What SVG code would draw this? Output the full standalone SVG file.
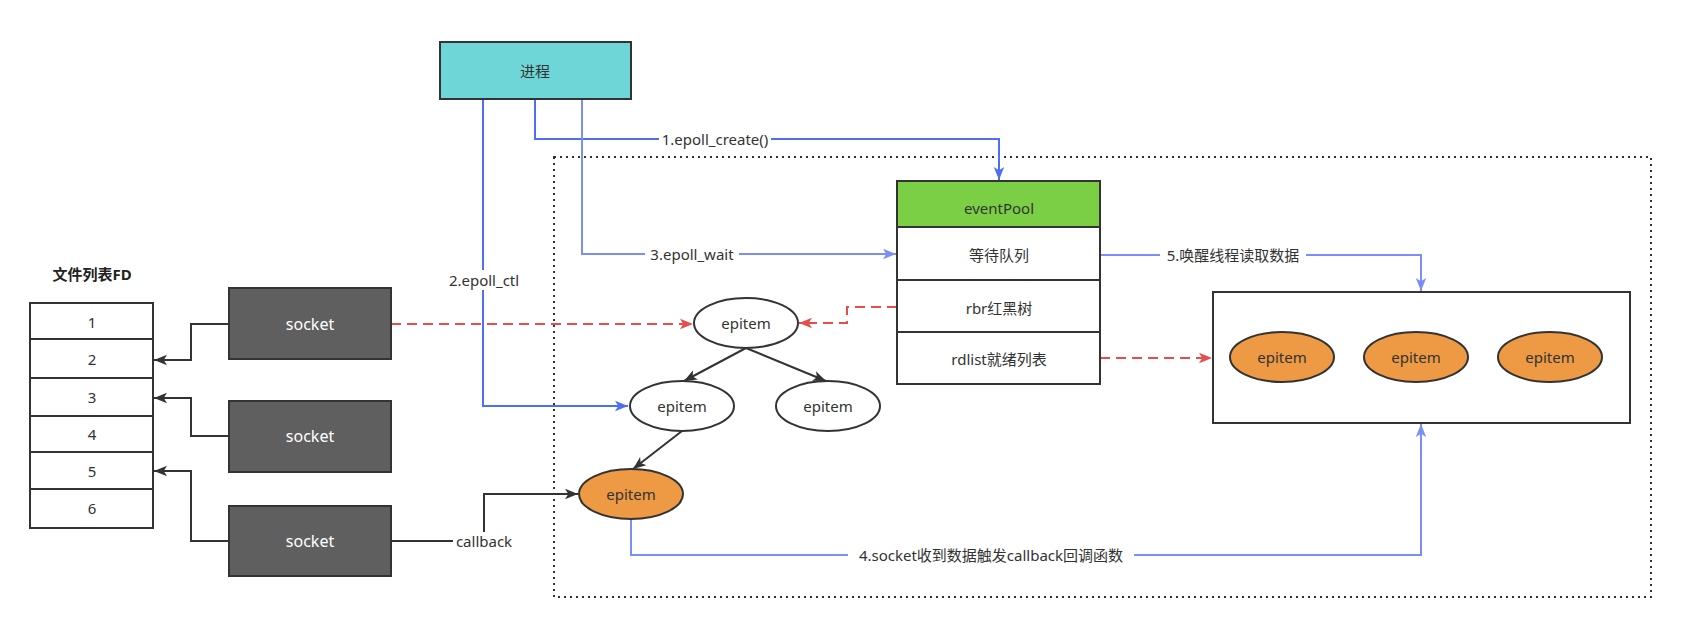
<svg xmlns="http://www.w3.org/2000/svg" width="1700" height="624" viewBox="0 0 1700 624">
<style>
text{font-family:"Noto Sans","Noto Sans CJK SC",sans-serif;fill:#333;text-anchor:middle;dominant-baseline:central}
.box{stroke:#333;stroke-width:2}
.w{fill:#fff}
.ell{fill:#fff;stroke:#333;stroke-width:2}
.org{fill:#ee9943;stroke:#333;stroke-width:2}
.sock{fill:#5f5f5f;stroke:#333;stroke-width:2}
.sock text,.st{fill:#fff;font-size:16px}
.n{font-size:15px}
.lb{font-size:15px}
.c{fill:none;stroke-width:2}
.blk{stroke:#333}
.b1{stroke:#4d6ef5}
.b2{stroke:#7b8ef5}
.red{stroke:#e84c4c;stroke-dasharray:10 6}
</style>
<defs>
<marker id="ak" viewBox="0 0 10 10" refX="10" refY="5" markerWidth="13" markerHeight="13" markerUnits="userSpaceOnUse" orient="auto"><path d="M0,1 L10,5 L0,9 L2.5,5 z" fill="#333"/></marker>
<marker id="ab1" viewBox="0 0 10 10" refX="10" refY="5" markerWidth="13" markerHeight="13" markerUnits="userSpaceOnUse" orient="auto"><path d="M0,1 L10,5 L0,9 L2.5,5 z" fill="#4d6ef5"/></marker>
<marker id="ab2" viewBox="0 0 10 10" refX="10" refY="5" markerWidth="13" markerHeight="13" markerUnits="userSpaceOnUse" orient="auto"><path d="M0,1 L10,5 L0,9 L2.5,5 z" fill="#7b8ef5"/></marker>
<marker id="ar" viewBox="0 0 10 10" refX="10" refY="5" markerWidth="13" markerHeight="13" markerUnits="userSpaceOnUse" orient="auto"><path d="M0,1 L10,5 L0,9 L2.5,5 z" fill="#e84c4c"/></marker>
</defs>
<rect x="0" y="0" width="1700" height="624" fill="#fff"/>
<rect id="container" x="554" y="157" width="1097" height="440" fill="none" stroke="#333" stroke-width="2" stroke-dasharray="2 4"/>

<g id="connectors">
<path class="c blk" d="M229,324 H191 V360 H154" marker-end="url(#ak)"/>
<path class="c blk" d="M229,436 H191 V398 H154" marker-end="url(#ak)"/>
<path class="c blk" d="M229,541 H191 V471 H154" marker-end="url(#ak)"/>
<path class="c blk" d="M391,541 H484 V494 H578" marker-end="url(#ak)"/>
<path class="c blk" d="M746,348 L684,381" marker-end="url(#ak)"/>
<path class="c blk" d="M746,348 L826,381" marker-end="url(#ak)"/>
<path class="c blk" d="M682,431 L633,469" marker-end="url(#ak)"/>
<path class="c red" d="M391,324 H693" marker-end="url(#ar)"/>
<path class="c red" d="M897,307 H847 V323 H799" marker-end="url(#ar)"/>
<path class="c red" d="M1100,358 H1212" marker-end="url(#ar)"/>
<path class="c b1" d="M535,99 V139 H999 V180" marker-end="url(#ab1)"/>
<path class="c b1" d="M483,99 V406 H628" marker-end="url(#ab1)"/>
<path class="c b2" d="M582,99 V254 H896" marker-end="url(#ab2)"/>
<path class="c b2" d="M1100,255 H1421 V291" marker-end="url(#ab2)"/>
<path class="c b2" d="M631,519 V555 H1421 V424" marker-end="url(#ab2)"/>
<rect class="w" x="659" y="130" width="112" height="18"/>
<text class="lb" x="715" y="139">1.epoll_create()</text>
<rect class="w" x="645" y="245" width="94" height="18"/>
<text class="lb" x="692" y="254">3.epoll_wait</text>
<rect class="w" x="442" y="270" width="84" height="20"/>
<text class="lb" x="484" y="280">2.epoll_ctl</text>
<rect class="w" x="453" y="532" width="62" height="20"/>
<text class="lb" x="484" y="541">callback</text>
<rect class="w" x="1160" y="246" width="146" height="18"/>
<text class="lb" x="1233" y="255">5.唤醒线程读取数据</text>
<rect class="w" x="848" y="546" width="286" height="18"/>
<text class="lb" x="991" y="555">4.socket收到数据触发callback回调函数</text>
</g>

<g id="fd-title"><text x="92" y="274" style="font-size:15px;font-weight:bold;fill:#222">文件列表FD</text></g>
<g id="fd-table">
<rect class="box w" x="30" y="303" width="123" height="225"/>
<path d="M30,339 H153 M30,378 H153 M30,416 H153 M30,452 H153 M30,489 H153" stroke="#333" stroke-width="2"/>
<text class="n" x="92" y="322">1</text>
<text class="n" x="92" y="359">2</text>
<text class="n" x="92" y="397">3</text>
<text class="n" x="92" y="434">4</text>
<text class="n" x="92" y="471">5</text>
<text class="n" x="92" y="508">6</text>
</g>
<g id="socket1"><rect class="sock" x="229" y="288" width="162" height="71"/><text class="st" x="310" y="324">socket</text></g>
<g id="socket2"><rect class="sock" x="229" y="401" width="162" height="71"/><text class="st" x="310" y="436">socket</text></g>
<g id="socket3"><rect class="sock" x="229" y="506" width="162" height="70"/><text class="st" x="310" y="541">socket</text></g>

<g id="process"><rect class="box" x="440" y="42" width="191" height="57" fill="#6fd6d8"/><text class="n" x="535" y="71">进程</text></g>

<g id="eventPool">
<rect class="box" x="897" y="181" width="203" height="46" fill="#7bcf45"/>
<text class="n" x="999" y="208">eventPool</text>
<rect class="box w" x="897" y="227" width="203" height="53"/>
<text class="n" x="999" y="255">等待队列</text>
<rect class="box w" x="897" y="280" width="203" height="52"/>
<text class="n" x="999" y="308">rbr红黑树</text>
<rect class="box w" x="897" y="332" width="203" height="52"/>
<text class="n" x="999" y="359">rdlist就绪列表</text>
</g>

<g id="epitem-root"><ellipse class="ell" cx="746" cy="323" rx="52" ry="25"/><text class="n" x="746" y="323">epitem</text></g>
<g id="epitem-left"><ellipse class="ell" cx="682" cy="406" rx="52" ry="25"/><text class="n" x="682" y="406">epitem</text></g>
<g id="epitem-right"><ellipse class="ell" cx="828" cy="406" rx="52" ry="25"/><text class="n" x="828" y="406">epitem</text></g>
<g id="epitem-ready"><ellipse class="org" cx="631" cy="494" rx="52" ry="25"/><text class="n" x="631" y="494">epitem</text></g>

<g id="ready-list">
<rect class="box w" x="1213" y="292" width="417" height="131"/>
<ellipse class="org" cx="1282" cy="357" rx="52" ry="25"/><text class="n" x="1282" y="357">epitem</text>
<ellipse class="org" cx="1416" cy="357" rx="52" ry="25"/><text class="n" x="1416" y="357">epitem</text>
<ellipse class="org" cx="1550" cy="357" rx="52" ry="25"/><text class="n" x="1550" y="357">epitem</text>
</g>
</svg>
